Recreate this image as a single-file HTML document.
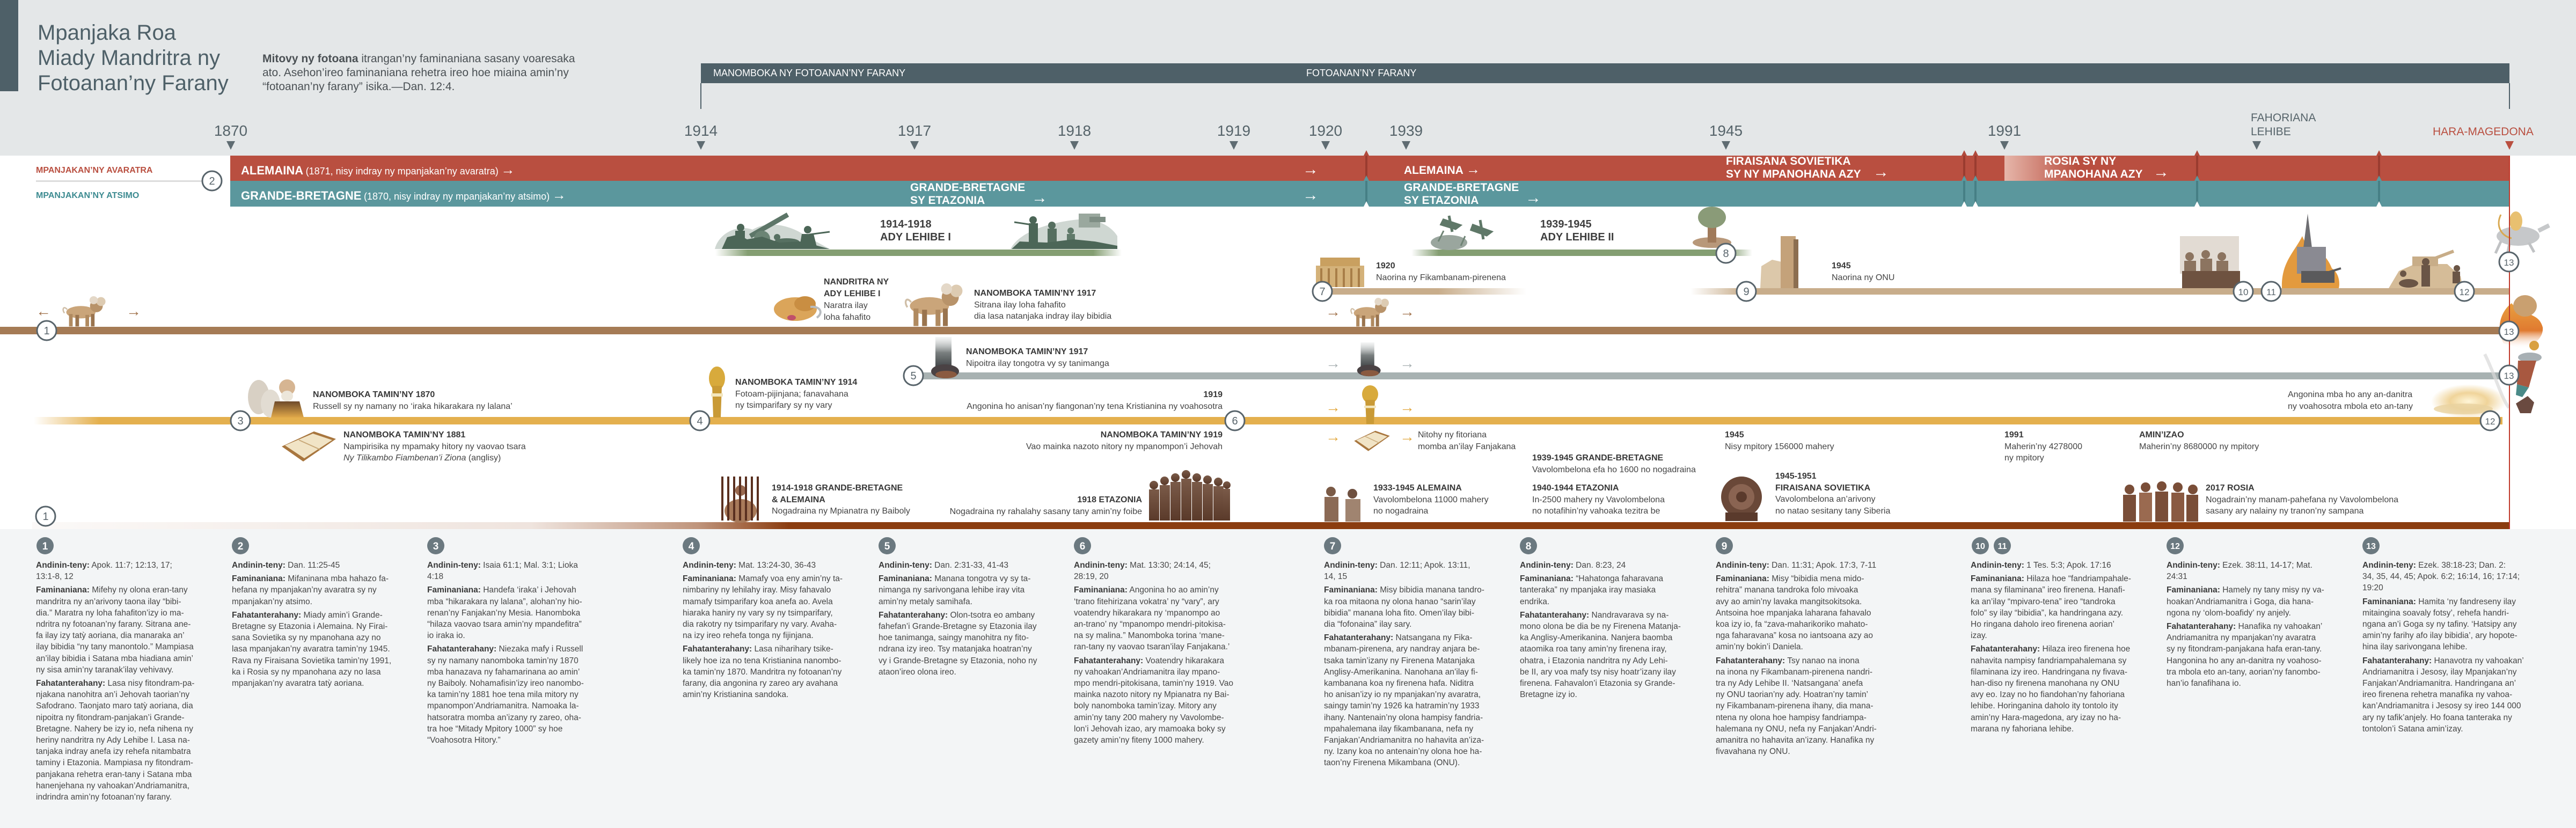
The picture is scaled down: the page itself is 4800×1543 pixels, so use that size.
<!DOCTYPE html>
<html><head><meta charset="utf-8">
<style>
body{margin:0;padding:0}
#c{position:relative;width:4800px;height:1543px;overflow:hidden;background:#fff;font-family:"Liberation Sans","DejaVu Sans",sans-serif}
.a{position:absolute;white-space:nowrap}
.m{font-size:16px;line-height:21.5px;color:#444}
.m b{color:#383838}
.r{text-align:right}
.y{position:absolute;top:230px;width:120px;margin-left:-60px;text-align:center;font-size:28px;line-height:28px;color:#56646a}
.bt{position:absolute;white-space:nowrap;color:#fff;font-weight:bold;font-size:21px;line-height:23.5px}
.col{position:absolute;top:1043px;font-size:15.5px;line-height:21.2px;color:#474747;white-space:nowrap}
.col p{margin:0 0 4px 0}
.col b{color:#3a3a3a}
</style></head><body>
<div id="c">
<svg width="4800" height="1543" viewBox="0 0 4800 1543" style="position:absolute;left:0;top:0">
<defs>
<linearGradient id="gy" gradientUnits="userSpaceOnUse" x1="63" y1="0" x2="185" y2="0"><stop offset="0" stop-color="#e4b04e" stop-opacity="0"/><stop offset="1" stop-color="#e4b04e"/></linearGradient>
<linearGradient id="gt1" gradientUnits="userSpaceOnUse" x1="2680" y1="0" x2="2844" y2="0"><stop offset="0" stop-color="#c8ad8b"/><stop offset="1" stop-color="#c8ad8b" stop-opacity="0"/></linearGradient>
<linearGradient id="gt2" gradientUnits="userSpaceOnUse" x1="3150" y1="0" x2="3250" y2="0"><stop offset="0" stop-color="#c8ad8b" stop-opacity="0"/><stop offset="1" stop-color="#c8ad8b"/></linearGradient>
<linearGradient id="gg"><stop offset="0" stop-color="#849e72" stop-opacity="0"/><stop offset=".08" stop-color="#849e72"/><stop offset=".93" stop-color="#849e72"/><stop offset="1" stop-color="#849e72" stop-opacity="0"/></linearGradient>
<linearGradient id="gb" gradientUnits="userSpaceOnUse" x1="60" y1="0" x2="1470" y2="0"><stop offset="0" stop-color="#8b3d10" stop-opacity=".03"/><stop offset=".66" stop-color="#8b3d10" stop-opacity=".14"/><stop offset=".88" stop-color="#8b3d10" stop-opacity=".55"/><stop offset="1" stop-color="#8b3d10"/></linearGradient>
<linearGradient id="gp" gradientUnits="userSpaceOnUse" x1="3735" y1="0" x2="3870" y2="0"><stop offset="0" stop-color="#e6b6aa"/><stop offset="1" stop-color="#b94f40"/></linearGradient>
<linearGradient id="gcoat" x1="0" y1="0" x2="0" y2="1"><stop offset="0" stop-color="#6e4a2a"/><stop offset="1" stop-color="#e0a848"/></linearGradient>
<linearGradient id="gfoot" x1="0" y1="0" x2="0" y2="1"><stop offset="0" stop-color="#d8dcdc" stop-opacity=".3"/><stop offset=".5" stop-color="#7a8080"/><stop offset="1" stop-color="#3e4244"/></linearGradient>
<linearGradient id="gmen" x1="0" y1="0" x2="0" y2="1"><stop offset="0" stop-color="#7a5a48"/><stop offset="1" stop-color="#5a3a2a"/></linearGradient>
<linearGradient id="gfire" x1="0" y1="0" x2="0" y2="1"><stop offset="0" stop-color="#e8a040"/><stop offset=".6" stop-color="#e07a30"/><stop offset="1" stop-color="#fff" stop-opacity="0"/></linearGradient>
<radialGradient id="gglow"><stop offset="0" stop-color="#fff6d8"/><stop offset=".5" stop-color="#f0d49a"/><stop offset="1" stop-color="#f0d49a" stop-opacity="0"/></radialGradient>
<symbol id="bst" viewBox="0 0 100 70" preserveAspectRatio="none">
<path d="M12,30 C4,20 0,30 6,38" stroke="#d0bfa8" stroke-width="3" fill="none"/>
<ellipse cx="42" cy="36" rx="32" ry="14" fill="#caa57a"/>
<rect x="16" y="40" width="8" height="28" fill="#b08a60"/>
<rect x="30" y="42" width="8" height="26" fill="#9a744e"/>
<rect x="52" y="42" width="8" height="26" fill="#b08a60"/>
<rect x="64" y="40" width="8" height="28" fill="#9a744e"/>
<circle cx="76" cy="22" r="14" fill="#b8936a"/>
<circle cx="86" cy="12" r="10" fill="#ddcbb2"/>
<circle cx="70" cy="9" r="9" fill="#e4d8c8"/>
</symbol>
<symbol id="wht" viewBox="0 0 46 95" preserveAspectRatio="none">
<ellipse cx="23" cy="22" rx="15" ry="22" fill="#d8aa3c"/>
<path d="M14,36 L32,36 L30,95 L16,95 Z" fill="#c99a36"/>
<rect x="12" y="50" width="22" height="6" fill="#f3e6bd"/>
</symbol>
<symbol id="bk" viewBox="0 0 105 62" preserveAspectRatio="none">
<path d="M2,32 L62,4 L103,18 L42,60 Z" fill="#a8763e"/>
<path d="M8,30 L60,8 L96,20 L44,54 Z" fill="#f1e4c6"/>
<path d="M34,20 L74,38" stroke="#c8a878" stroke-width="2"/>
</symbol>
<symbol id="ft" viewBox="0 0 64 78" preserveAspectRatio="none">
<rect x="16" y="0" width="30" height="58" fill="url(#gfoot)"/>
<ellipse cx="34" cy="64" rx="26" ry="13" fill="#4a4244"/>
<ellipse cx="36" cy="70" rx="20" ry="7" fill="#8a5a40"/>
</symbol>
</defs>

<!-- backgrounds -->
<rect x="0" y="0" width="4800" height="290" fill="#e4e7e8"/>
<rect x="0" y="986" width="4800" height="557" fill="#f3f5f6"/>
<rect x="0" y="0" width="34" height="170" fill="#4e6068"/>
<rect x="1306" y="118" width="3370" height="37" fill="#4e6068"/>
<rect x="1305" y="155" width="2" height="48" fill="#4e6068"/>
<rect x="4675" y="155" width="2" height="48" fill="#4e6068"/>

<!-- year triangles -->
<g fill="#5f6c72">
<polygon points="422,263 438,263 430,279"/>
<polygon points="1298,263 1314,263 1306,279"/>
<polygon points="1696,263 1712,263 1704,279"/>
<polygon points="1994,263 2010,263 2002,279"/>
<polygon points="2291,263 2307,263 2299,279"/>
<polygon points="2462,263 2478,263 2470,279"/>
<polygon points="2612,263 2628,263 2620,279"/>
<polygon points="3208,263 3224,263 3216,279"/>
<polygon points="3727,263 3743,263 3735,279"/>
<polygon points="4197,263 4213,263 4205,279"/>
</g>
<polygon points="4668,263 4684,263 4676,279" fill="#b94f40"/>

<!-- bands -->
<rect x="429" y="290" width="4247" height="47" fill="#b94f40"/>
<rect x="429" y="337" width="4247" height="48" fill="#5b979d"/>
<rect x="3735" y="290" width="135" height="47" fill="url(#gp)"/>
<rect x="67" y="336" width="310" height="3" fill="#dcdcdc"/>
<g>
<g id="n1">
<polygon points="2541,290 2546,280 2551,290" fill="#b04a3c"/>
<rect x="2544" y="290" width="4" height="47" fill="#9a3c30"/>
<rect x="2544" y="337" width="4" height="48" fill="#467f85"/>
<polygon points="2541,337 2546,327 2551,337" fill="#5b979d"/>
<polygon points="2541,385 2546,375 2551,385" fill="#fff"/>
</g>
<use href="#n1" x="1114"/>
<use href="#n1" x="1135"/>
<use href="#n1" x="1548"/>
<use href="#n1" x="1887"/>
</g>

<!-- middle lines -->
<rect x="1333" y="465" width="757" height="12" fill="url(#gg)"/>
<rect x="2630" y="465" width="635" height="12" fill="url(#gg)"/>
<rect x="2446" y="537" width="398" height="12" fill="url(#gt1)"/>
<rect x="3150" y="537" width="1526" height="12" fill="url(#gt2)"/>
<rect x="0" y="609" width="4662" height="14" fill="#a57b55"/>
<rect x="1702" y="694" width="2958" height="13" fill="#a8b2b2"/>
<rect x="63" y="777" width="4600" height="14" fill="url(#gy)"/>
<rect x="60" y="973" width="4616" height="13" fill="url(#gb)"/>

<!-- images -->
<path d="M1332,464 C1340,432 1378,418 1402,428 C1432,410 1474,420 1502,440 L1546,464 Z" fill="#c7d0ca" opacity=".85"/>
<line x1="1398" y1="440" x2="1468" y2="400" stroke="#5d7668" stroke-width="9"/>
<circle cx="1420" cy="445" r="15" fill="#6b8474"/>
<circle cx="1380" cy="424" r="7" fill="#4c6657"/>
<rect x="1370" y="430" width="18" height="24" fill="#4c6657"/>
<ellipse cx="1466" cy="451" rx="24" ry="7" fill="#567061"/>
<circle cx="1448" cy="442" r="6" fill="#567061"/>
<circle cx="1505" cy="428" r="7" fill="#4c6657"/>
<path d="M1494,436 L1516,436 L1522,460 L1490,460 Z" fill="#4c6657"/>
<line x1="1508" y1="437" x2="1546" y2="432" stroke="#4c6657" stroke-width="3"/>
<path d="M1345,464 L1355,442 L1376,437 L1392,446 L1420,441 L1452,452 L1490,450 L1520,457 L1546,464 Z" fill="#4c6657"/>
<path d="M1883,464 C1900,430 1960,415 2000,410 C2040,404 2070,420 2082,440 L2082,464 Z" fill="#c7d0ca" opacity=".85"/>
<rect x="2010" y="398" width="40" height="26" fill="#9aa89e"/>
<rect x="2030" y="404" width="30" height="10" fill="#7e8e84"/>
<circle cx="1925" cy="410" r="7" fill="#4c6657"/>
<rect x="1917" y="416" width="17" height="40" fill="#4c6657"/>
<line x1="1890" y1="414" x2="1930" y2="420" stroke="#4c6657" stroke-width="3"/>
<circle cx="1960" cy="420" r="7" fill="#566f60"/>
<rect x="1952" y="426" width="17" height="32" fill="#566f60"/>
<circle cx="1995" cy="430" r="6" fill="#607a6a"/>
<rect x="1988" y="436" width="15" height="24" fill="#607a6a"/>
<path d="M1885,464 L1900,450 L1950,452 L2000,446 L2040,450 L2082,458 L2082,464 Z" fill="#4c6657"/>
<ellipse cx="2700" cy="452" rx="34" ry="14" fill="#9aa69e"/>
<path d="M2690,410 L2720,420 L2712,426 L2686,418 Z M2700,402 L2706,432" stroke="#5f7868" stroke-width="5" fill="#5f7868"/>
<path d="M2745,420 L2778,432 L2770,438 L2742,428 Z M2758,410 L2764,446" stroke="#5f7868" stroke-width="5" fill="#5f7868"/>
<line x1="2690" y1="430" x2="2680" y2="450" stroke="#6f8475" stroke-width="3"/>
<line x1="2730" y1="440" x2="2722" y2="458" stroke="#6f8475" stroke-width="3"/>
<ellipse cx="3190" cy="452" rx="36" ry="10" fill="#b8987a"/>
<rect x="3182" y="402" width="16" height="50" fill="#a07a5a"/>
<ellipse cx="3190" cy="405" rx="26" ry="20" fill="#8a9b78"/>
<rect x="2452" y="495" width="90" height="40" fill="#d4b27a"/>
<rect x="2460" y="480" width="74" height="16" fill="#c9a060"/>
<g fill="#a87e48"><rect x="2460" y="500" width="4" height="35"/><rect x="2474" y="500" width="4" height="35"/><rect x="2488" y="500" width="4" height="35"/><rect x="2502" y="500" width="4" height="35"/><rect x="2516" y="500" width="4" height="35"/><rect x="2530" y="500" width="4" height="35"/></g>
<path d="M3280,537 L3282,496 L3302,484 L3320,488 L3320,537 Z" fill="#dcc8aa"/>
<rect x="3318" y="440" width="28" height="97" fill="#c4a27a"/>
<rect x="3342" y="446" width="9" height="91" fill="#8c6e50"/>
<use href="#bst" x="115" y="552" width="85" height="58"/>
<use href="#bst" x="1684" y="528" width="114" height="82"/>
<use href="#bst" x="2515" y="555" width="76" height="55"/>
<ellipse cx="1482" cy="576" rx="40" ry="22" fill="#dba55a"/>
<ellipse cx="1500" cy="566" rx="20" ry="14" fill="#c98e42"/>
<path d="M1510,572 C1530,570 1534,584 1522,592" stroke="#b8bcc0" stroke-width="4" fill="none"/>
<ellipse cx="1475" cy="592" rx="8" ry="5" fill="#c0506a"/>
<use href="#ft" x="1727" y="628" width="64" height="78"/>
<use href="#ft" x="2522" y="638" width="54" height="64"/>
<use href="#wht" x="1313" y="683" width="46" height="95"/>
<use href="#wht" x="2530" y="718" width="46" height="72"/>
<ellipse cx="482" cy="740" rx="20" ry="32" fill="#d8d0c4"/>
<ellipse cx="504" cy="752" rx="18" ry="26" fill="#e2dcd2"/>
<path d="M505,778 L512,748 L558,748 L566,778 Z" fill="url(#gcoat)"/>
<circle cx="535" cy="722" r="15" fill="#d6b592"/>
<ellipse cx="535" cy="738" rx="11" ry="10" fill="#ece6da"/>
<use href="#bk" x="523" y="800" width="105" height="62"/>
<use href="#bk" x="2522" y="800" width="69" height="42"/>
<circle cx="1380" cy="914" r="10" fill="#9a6a50"/>
<ellipse cx="1380" cy="952" rx="30" ry="22" fill="#a87a5a"/>
<g fill="#5a3020"><rect x="1344" y="888" width="4" height="82"/><rect x="1355" y="888" width="4" height="82"/><rect x="1366" y="888" width="4" height="82"/><rect x="1377" y="888" width="4" height="82"/><rect x="1388" y="888" width="4" height="82"/><rect x="1399" y="888" width="4" height="82"/><rect x="1410" y="888" width="4" height="82"/></g>
<g fill="url(#gmen)">
<circle cx="2150" cy="904" r="8"/><rect x="2141" y="912" width="19" height="58"/>
<circle cx="2170" cy="896" r="8"/><rect x="2161" y="904" width="19" height="66"/>
<circle cx="2190" cy="890" r="8"/><rect x="2181" y="898" width="19" height="72"/>
<circle cx="2210" cy="884" r="8"/><rect x="2201" y="892" width="19" height="78"/>
<circle cx="2230" cy="890" r="8"/><rect x="2221" y="898" width="19" height="72"/>
<circle cx="2250" cy="894" r="8"/><rect x="2241" y="902" width="19" height="68"/>
<circle cx="2270" cy="898" r="8"/><rect x="2261" y="906" width="19" height="64"/>
<circle cx="2286" cy="904" r="7"/><rect x="2279" y="911" width="13" height="59"/>
</g>
<circle cx="2480" cy="916" r="9" fill="#7a5a46"/><rect x="2468" y="926" width="26" height="46" fill="#8b6a55"/>
<circle cx="2520" cy="920" r="9" fill="#6e5040"/><rect x="2507" y="930" width="28" height="42" fill="#a08470"/>
<circle cx="3245" cy="926" r="38" fill="#6a4838"/>
<circle cx="3245" cy="926" r="24" fill="#8a6452"/>
<circle cx="3245" cy="926" r="10" fill="#5a3a2c"/>
<rect x="3215" y="955" width="60" height="16" fill="#5a3a2c"/>
<g fill="#7a4e38">
<circle cx="3968" cy="912" r="9"/><rect x="3956" y="922" width="24" height="50"/>
<circle cx="3998" cy="908" r="9"/><rect x="3986" y="918" width="24" height="54" fill="#9a6a50"/>
<circle cx="4028" cy="906" r="9"/><rect x="4016" y="916" width="24" height="56"/>
<circle cx="4058" cy="908" r="9"/><rect x="4046" y="918" width="24" height="54" fill="#8a5a42"/>
<circle cx="4086" cy="912" r="9"/><rect x="4074" y="922" width="22" height="50"/>
</g>
<rect x="4062" y="440" width="110" height="70" fill="#d6ccc0" opacity=".7"/>
<g fill="#8c7460"><circle cx="4080" cy="478" r="8"/><circle cx="4110" cy="474" r="8"/><circle cx="4140" cy="478" r="8"/><rect x="4070" y="486" width="22" height="24"/><rect x="4100" y="482" width="22" height="28"/><rect x="4130" y="486" width="22" height="24"/></g>
<rect x="4066" y="505" width="108" height="32" fill="#6e5240"/>
<path d="M4252,537 C4250,490 4275,470 4290,440 C4300,470 4330,460 4345,500 C4360,510 4360,530 4358,537 Z" fill="#e39a3e"/>
<polygon points="4300,398 4292,462 4308,462" fill="#6e6e72"/>
<rect x="4280" y="460" width="54" height="50" fill="#8a8a92"/>
<rect x="4288" y="505" width="62" height="22" fill="#5a5a5c"/>
<line x1="4330" y1="510" x2="4362" y2="500" stroke="#5a5a5c" stroke-width="4"/>
<path d="M4451,537 L4470,505 L4500,492 L4560,492 L4585,515 L4589,537 Z" fill="#d5bc98"/>
<rect x="4495" y="478" width="48" height="18" fill="#c8ad88"/>
<line x1="4530" y1="484" x2="4572" y2="468" stroke="#c8ad88" stroke-width="6"/>
<circle cx="4520" cy="488" r="7" fill="#6a5546"/><rect x="4512" y="494" width="16" height="40" fill="#6a5546"/>
<circle cx="4478" cy="510" r="6" fill="#6a5546"/><ellipse cx="4488" cy="528" rx="18" ry="8" fill="#6a5546"/>
<circle cx="4578" cy="500" r="6" fill="#6a5546"/><rect x="4570" y="506" width="14" height="22" fill="#6a5546"/>
<ellipse cx="4692" cy="440" rx="40" ry="18" fill="#c6c8ca"/>
<path d="M4660,450 L4650,472 M4676,454 L4672,474 M4712,452 L4722,470" stroke="#c0c2c4" stroke-width="5"/>
<path d="M4730,430 L4750,420" stroke="#c6c8ca" stroke-width="8"/>
<ellipse cx="4688" cy="412" rx="12" ry="18" fill="#e8c070"/>
<path d="M4660,400 C4650,420 4660,440 4680,444" stroke="#d8a850" stroke-width="3" fill="none"/>
<path d="M4665,640 C4650,610 4660,580 4680,565 C4700,590 4730,580 4738,610 C4740,630 4720,645 4700,650 Z" fill="url(#gfire)"/>
<ellipse cx="4705" cy="570" rx="22" ry="20" fill="#c9a070"/>
<path d="M4630,660 C4650,700 4660,740 4675,760" stroke="#d8d8d8" stroke-width="6" fill="none" opacity=".7"/>
<ellipse cx="4714" cy="666" rx="22" ry="9" fill="#a8b0b4"/>
<circle cx="4722" cy="644" r="9" fill="#d9a040"/>
<path d="M4692,672 L4726,672 L4712,722 L4690,716 Z" fill="#a85840"/>
<path d="M4690,716 L4712,722 L4700,740 L4688,736 Z" fill="#4a8a88"/>
<polygon points="4688,752 4710,738 4722,750 4716,770 4696,770" fill="#6a4a40"/>
<ellipse cx="4600" cy="748" rx="70" ry="32" fill="url(#gglow)"/>
<ellipse cx="4590" cy="762" rx="55" ry="10" fill="#e8d2a0" opacity=".8"/>

<rect x="4675" y="290" width="2" height="696" fill="#c0392b"/>

<!-- arrows -->
<g font-family="Liberation Sans, DejaVu Sans, sans-serif" font-size="28" text-anchor="middle">
<text x="81" y="589" fill="#a0714a">←</text><text x="249" y="589" fill="#a0714a">→</text>
<text x="2484" y="590" fill="#a0714a">→</text><text x="2622" y="590" fill="#a0714a">→</text>
<text x="2484" y="686" fill="#a8b0b2">→</text><text x="2622" y="686" fill="#a8b0b2">→</text>
<text x="2484" y="768" fill="#e2a940">→</text><text x="2622" y="768" fill="#e2a940">→</text>
<text x="2484" y="823" fill="#e2a940">→</text><text x="2622" y="823" fill="#e2a940">→</text>
</g>
<g font-family="Liberation Sans, DejaVu Sans, sans-serif" font-size="30" font-weight="bold" text-anchor="middle" fill="#fff">
<text x="1937" y="378">→</text>
<text x="2442" y="325">→</text><text x="2442" y="373">→</text>
<text x="2857" y="378">→</text>
<text x="3505" y="330">→</text>
<text x="4027" y="330">→</text>
</g>

<!-- timeline circles -->
<g fill="#fff" stroke="#58646b" stroke-width="3">
<circle cx="87" cy="616" r="18"/><circle cx="85" cy="962" r="18"/><circle cx="395" cy="337" r="18"/>
<circle cx="448" cy="784" r="18"/><circle cx="1304" cy="784" r="18"/><circle cx="1702" cy="700" r="18"/>
<circle cx="2301" cy="784" r="18"/><circle cx="2464" cy="543" r="18"/><circle cx="3216" cy="472" r="18"/>
<circle cx="3254" cy="543" r="18"/><circle cx="4180" cy="543" r="18"/><circle cx="4232" cy="543" r="18"/>
<circle cx="4592" cy="543" r="18"/><circle cx="4640" cy="784" r="18"/><circle cx="4675" cy="488" r="18"/>
<circle cx="4675" cy="617" r="18"/><circle cx="4675" cy="699" r="18"/>
</g>
<g font-family="Liberation Sans, DejaVu Sans, sans-serif" font-size="20" text-anchor="middle" fill="#58646b">
<text x="87" y="623">1</text><text x="85" y="969">1</text><text x="395" y="344">2</text>
<text x="448" y="791">3</text><text x="1304" y="791">4</text><text x="1702" y="707">5</text>
<text x="2301" y="791">6</text><text x="2464" y="550">7</text><text x="3216" y="479">8</text>
<text x="3254" y="550">9</text><text x="4180" y="550" font-size="17">10</text><text x="4232" y="550" font-size="17">11</text>
<text x="4592" y="550" font-size="17">12</text><text x="4640" y="791" font-size="17">12</text><text x="4675" y="495" font-size="17">13</text>
<text x="4675" y="624" font-size="17">13</text><text x="4675" y="706" font-size="17">13</text>
</g>

<!-- bottom badges -->
<g fill="#6b7980">
<circle cx="84" cy="1017" r="16"/><circle cx="448" cy="1017" r="16"/><circle cx="812" cy="1017" r="16"/>
<circle cx="1288" cy="1017" r="16"/><circle cx="1653" cy="1017" r="16"/><circle cx="2017" cy="1017" r="16"/>
<circle cx="2483" cy="1017" r="16"/><circle cx="2848" cy="1017" r="16"/><circle cx="3213" cy="1017" r="16"/>
<circle cx="3690" cy="1017" r="16"/><circle cx="3731" cy="1017" r="16"/><circle cx="4053" cy="1017" r="16"/>
<circle cx="4418" cy="1017" r="16"/>
</g>
<g font-family="Liberation Sans, DejaVu Sans, sans-serif" font-size="19" font-weight="bold" text-anchor="middle" fill="#fff">
<text x="84" y="1024">1</text><text x="448" y="1024">2</text><text x="812" y="1024">3</text>
<text x="1288" y="1024">4</text><text x="1653" y="1024">5</text><text x="2017" y="1024">6</text>
<text x="2483" y="1024">7</text><text x="2848" y="1024">8</text><text x="3213" y="1024">9</text>
<text x="3690" y="1023" font-size="16">10</text><text x="3731" y="1023" font-size="16">11</text><text x="4053" y="1023" font-size="16">12</text>
<text x="4418" y="1023" font-size="16">13</text>
</g>
</svg>

<!-- Header -->
<div class="a" style="left:70px;top:38px;font-size:40px;line-height:47px;color:#4e6068">Mpanjaka Roa<br>Miady Mandritra ny<br>Fotoanan’ny Farany</div>
<div class="a" style="left:489px;top:97px;font-size:21px;line-height:26px;color:#4a5054"><b>Mitovy ny fotoana</b> itrangan’ny faminaniana sasany voaresaka<br>ato. Asehon’ireo faminaniana rehetra ireo hoe miaina amin’ny<br>“fotoanan’ny farany” isika.—Dan. 12:4.</div>
<div class="a" style="left:1329px;top:118px;font-size:18px;line-height:37px;color:#fff">MANOMBOKA NY FOTOANAN’NY FARANY</div>
<div class="a" style="left:2434px;top:118px;font-size:18px;line-height:37px;color:#fff">FOTOANAN’NY FARANY</div>

<div class="y" style="left:430px">1870</div>
<div class="y" style="left:1306px">1914</div>
<div class="y" style="left:1704px">1917</div>
<div class="y" style="left:2002px">1918</div>
<div class="y" style="left:2299px">1919</div>
<div class="y" style="left:2470px">1920</div>
<div class="y" style="left:2620px">1939</div>
<div class="y" style="left:3216px">1945</div>
<div class="y" style="left:3735px">1991</div>
<div class="a" style="left:4194px;top:207px;font-size:21px;line-height:26px;color:#56646a">FAHORIANA<br>LEHIBE</div>
<div class="a" style="left:4533px;top:233px;font-size:21px;line-height:26px;color:#b94f40">HARA-MAGEDONA</div>

<!-- Band labels -->
<div class="a" style="left:67px;top:308px;font-size:16px;line-height:20px;font-weight:bold;color:#b94f40">MPANJAKAN’NY AVARATRA</div>
<div class="a" style="left:67px;top:355px;font-size:16px;line-height:20px;font-weight:bold;color:#3d8b91">MPANJAKAN’NY ATSIMO</div>
<div class="a" style="left:449px;top:303px;line-height:26px;color:#fff"><b style="font-size:22px">ALEMAINA</b> <span style="font-size:18px">(1871, nisy indray ny mpanjakan’ny avaratra)</span> <b style="font-size:26px">→</b></div>
<div class="a" style="left:449px;top:350px;line-height:26px;color:#fff"><b style="font-size:22px">GRANDE-BRETAGNE</b> <span style="font-size:18px">(1870, nisy indray ny mpanjakan’ny atsimo)</span> <b style="font-size:26px">→</b></div>
<div class="bt" style="left:1696px;top:338px">GRANDE-BRETAGNE<br>SY ETAZONIA</div>
<div class="bt" style="left:2616px;top:304px">ALEMAINA <span style="font-size:26px">→</span></div>
<div class="bt" style="left:2616px;top:338px">GRANDE-BRETAGNE<br>SY ETAZONIA</div>
<div class="bt" style="left:3216px;top:289px">FIRAISANA SOVIETIKA<br>SY NY MPANOHANA AZY</div>
<div class="bt" style="left:3809px;top:289px">ROSIA SY NY<br>MPANOHANA AZY</div>

<!-- Middle text -->
<div class="a" style="left:1640px;top:406px;font-size:20px;line-height:24px;font-weight:bold;color:#3e3e3e">1914-1918<br>ADY LEHIBE I</div>
<div class="a" style="left:2870px;top:406px;font-size:20px;line-height:24px;font-weight:bold;color:#3e3e3e">1939-1945<br>ADY LEHIBE II</div>

<div class="a m" style="left:1535px;top:515px;line-height:22px"><b>NANDRITRA NY<br>ADY LEHIBE I</b><br>Naratra ilay<br>loha fahafito</div>
<div class="a m" style="left:1815px;top:536px"><b>NANOMBOKA TAMIN’NY 1917</b><br>Sitrana ilay loha fahafito<br>dia lasa natanjaka indray ilay bibidia</div>
<div class="a m" style="left:1800px;top:645px"><b>NANOMBOKA TAMIN’NY 1917</b><br>Nipoitra ilay tongotra vy sy tanimanga</div>
<div class="a m" style="left:583px;top:725px"><b>NANOMBOKA TAMIN’NY 1870</b><br>Russell sy ny namany no ‘iraka hikarakara ny lalana’</div>
<div class="a m" style="left:640px;top:800px"><b>NANOMBOKA TAMIN’NY 1881</b><br>Nampirisika ny mpamaky hitory ny vaovao tsara<br><i>Ny Tilikambo Fiambenan’i Ziona</i> (anglisy)</div>
<div class="a m" style="left:1370px;top:702px"><b>NANOMBOKA TAMIN’NY 1914</b><br>Fotoam-pijinjana; fanavahana<br>ny tsimparifary sy ny vary</div>
<div class="a m r" style="right:2522px;top:725px"><b>1919</b><br>Angonina ho anisan’ny fiangonan’ny tena Kristianina ny voahosotra</div>
<div class="a m r" style="right:2522px;top:800px"><b>NANOMBOKA TAMIN’NY 1919</b><br>Vao mainka nazoto nitory ny mpanompon’i Jehovah</div>
<div class="a m" style="left:1438px;top:899px"><b>1914-1918 GRANDE-BRETAGNE<br>&amp; ALEMAINA</b><br>Nogadraina ny Mpianatra ny Baiboly</div>
<div class="a m r" style="right:2672px;top:921px"><b>1918 ETAZONIA</b><br>Nogadraina ny rahalahy sasany tany amin’ny foibe</div>

<div class="a m" style="left:2564px;top:485px"><b>1920</b><br>Naorina ny Fikambanam-pirenena</div>
<div class="a m" style="left:3413px;top:485px"><b>1945</b><br>Naorina ny ONU</div>
<div class="a m" style="left:2642px;top:800px">Nitohy ny fitoriana<br>momba an’ilay Fanjakana</div>
<div class="a m" style="left:2855px;top:843px"><b>1939-1945 GRANDE-BRETAGNE</b><br>Vavolombelona efa ho 1600 no nogadraina</div>
<div class="a m" style="left:3214px;top:800px"><b>1945</b><br>Nisy mpitory 156000 mahery</div>
<div class="a m" style="left:3735px;top:800px"><b>1991</b><br>Maherin’ny 4278000<br>ny mpitory</div>
<div class="a m" style="left:3986px;top:800px"><b>AMIN’IZAO</b><br>Maherin’ny 8680000 ny mpitory</div>
<div class="a m" style="left:4263px;top:725px">Angonina mba ho any an-danitra<br>ny voahosotra mbola eto an-tany</div>
<div class="a m" style="left:2559px;top:899px"><b>1933-1945 ALEMAINA</b><br>Vavolombelona 11000 mahery<br>no nogadraina</div>
<div class="a m" style="left:2855px;top:899px"><b>1940-1944 ETAZONIA</b><br>In-2500 mahery ny Vavolombelona<br>no notafihin’ny vahoaka tezitra be</div>
<div class="a m" style="left:3308px;top:877px"><b>1945-1951<br>FIRAISANA SOVIETIKA</b><br>Vavolombelona an’arivony<br>no natao sesitany tany Siberia</div>
<div class="a m" style="left:4110px;top:899px"><b>2017 ROSIA</b><br>Nogadrain’ny manam-pahefana ny Vavolombelona<br>sasany ary nalainy ny tranon’ny sampana</div>

<!-- Bottom columns -->
<div class="col" style="left:67px">
<p><b>Andinin-teny:</b> Apok. 11:7; 12:13, 17;<br>13:1-8, 12</p>
<p><b>Faminaniana:</b> Mifehy ny olona eran-tany<br>mandritra ny an’arivony taona ilay “bibi-<br>dia.” Maratra ny loha fahafiton’izy io ma-<br>ndritra ny fotoanan’ny farany. Sitrana ane-<br>fa ilay izy tatỳ aoriana, dia manaraka an’<br>ilay bibidia “ny tany manontolo.” Mampiasa<br>an’ilay bibidia i Satana mba hiadiana amin’<br>ny sisa amin’ny taranak’ilay vehivavy.</p>
<p><b>Fahatanterahany:</b> Lasa nisy fitondram-pa-<br>njakana nanohitra an’i Jehovah taorian’ny<br>Safodrano. Taonjato maro tatỳ aoriana, dia<br>nipoitra ny fitondram-panjakan’i Grande-<br>Bretagne. Nahery be izy io, nefa nihena ny<br>heriny nandritra ny Ady Lehibe I. Lasa na-<br>tanjaka indray anefa izy rehefa nitambatra<br>taminy i Etazonia. Mampiasa ny fitondram-<br>panjakana rehetra eran-tany i Satana mba<br>hanenjehana ny vahoakan’Andriamanitra,<br>indrindra amin’ny fotoanan’ny farany.</p>
</div>
<div class="col" style="left:432px">
<p><b>Andinin-teny:</b> Dan. 11:25-45</p>
<p><b>Faminaniana:</b> Mifaninana mba hahazo fa-<br>hefana ny mpanjakan’ny avaratra sy ny<br>mpanjakan’ny atsimo.</p>
<p><b>Fahatanterahany:</b> Miady amin’i Grande-<br>Bretagne sy Etazonia i Alemaina. Ny Firai-<br>sana Sovietika sy ny mpanohana azy no<br>lasa mpanjakan’ny avaratra tamin’ny 1945.<br>Rava ny Firaisana Sovietika tamin’ny 1991,<br>ka i Rosia sy ny mpanohana azy no lasa<br>mpanjakan’ny avaratra tatỳ aoriana.</p>
</div>
<div class="col" style="left:796px">
<p><b>Andinin-teny:</b> Isaia 61:1; Mal. 3:1; Lioka<br>4:18</p>
<p><b>Faminaniana:</b> Handefa ‘iraka’ i Jehovah<br>mba “hikarakara ny lalana”, alohan’ny hio-<br>renan’ny Fanjakan’ny Mesia. Hanomboka<br>“hilaza vaovao tsara amin’ny mpandefitra”<br>io iraka io.</p>
<p><b>Fahatanterahany:</b> Niezaka mafy i Russell<br>sy ny namany nanomboka tamin’ny 1870<br>mba hanazava ny fahamarinana ao amin’<br>ny Baiboly. Nohamafisin’izy ireo nanombo-<br>ka tamin’ny 1881 hoe tena mila mitory ny<br>mpanompon’Andriamanitra. Namoaka la-<br>hatsoratra momba an’izany ry zareo, oha-<br>tra hoe “Mitady Mpitory 1000” sy hoe<br>“Voahosotra Hitory.”</p>
</div>
<div class="col" style="left:1272px">
<p><b>Andinin-teny:</b> Mat. 13:24-30, 36-43</p>
<p><b>Faminaniana:</b> Mamafy voa eny amin’ny ta-<br>nimbariny ny lehilahy iray. Misy fahavalo<br>mamafy tsimparifary koa anefa ao. Avela<br>hiaraka haniry ny vary sy ny tsimparifary,<br>dia rakotry ny tsimparifary ny vary. Avaha-<br>na izy ireo rehefa tonga ny fijinjana.</p>
<p><b>Fahatanterahany:</b> Lasa niharihary tsike-<br>likely hoe iza no tena Kristianina nanombo-<br>ka tamin’ny 1870. Mandritra ny fotoanan’ny<br>farany, dia angonina ry zareo ary avahana<br>amin’ny Kristianina sandoka.</p>
</div>
<div class="col" style="left:1637px">
<p><b>Andinin-teny:</b> Dan. 2:31-33, 41-43</p>
<p><b>Faminaniana:</b> Manana tongotra vy sy ta-<br>nimanga ny sarivongana lehibe iray vita<br>amin’ny metaly samihafa.</p>
<p><b>Fahatanterahany:</b> Olon-tsotra eo ambany<br>fahefan’i Grande-Bretagne sy Etazonia ilay<br>hoe tanimanga, saingy manohitra ny fito-<br>ndrana izy ireo. Tsy matanjaka hoatran’ny<br>vy i Grande-Bretagne sy Etazonia, noho ny<br>ataon’ireo olona ireo.</p>
</div>
<div class="col" style="left:2001px">
<p><b>Andinin-teny:</b> Mat. 13:30; 24:14, 45;<br>28:19, 20</p>
<p><b>Faminaniana:</b> Angonina ho ao amin’ny<br>‘trano fitehirizana vokatra’ ny “vary”, ary<br>voatendry hikarakara ny ‘mpanompo ao<br>an-trano’ ny “mpanompo mendri-pitokisa-<br>na sy malina.” Manomboka torina ‘mane-<br>ran-tany ny vaovao tsaran’ilay Fanjakana.’</p>
<p><b>Fahatanterahany:</b> Voatendry hikarakara<br>ny vahoakan’Andriamanitra ilay mpano-<br>mpo mendri-pitokisana, tamin’ny 1919. Vao<br>mainka nazoto nitory ny Mpianatra ny Bai-<br>boly nanomboka tamin’izay. Mitory any<br>amin’ny tany 200 mahery ny Vavolombe-<br>lon’i Jehovah izao, ary mamoaka boky sy<br>gazety amin’ny fiteny 1000 mahery.</p>
</div>
<div class="col" style="left:2467px">
<p><b>Andinin-teny:</b> Dan. 12:11; Apok. 13:11,<br>14, 15</p>
<p><b>Faminaniana:</b> Misy bibidia manana tandro-<br>ka roa mitaona ny olona hanao “sarin’ilay<br>bibidia” manana loha fito. Omen’ilay bibi-<br>dia “fofonaina” ilay sary.</p>
<p><b>Fahatanterahany:</b> Natsangana ny Fika-<br>mbanam-pirenena, ary nandray anjara be-<br>tsaka tamin’izany ny Firenena Matanjaka<br>Anglisy-Amerikanina. Nanohana an’ilay fi-<br>kambanana koa ny firenena hafa. Niditra<br>ho anisan’izy io ny mpanjakan’ny avaratra,<br>saingy tamin’ny 1926 ka hatramin’ny 1933<br>ihany. Nantenain’ny olona hampisy fandria-<br>mpahalemana ilay fikambanana, nefa ny<br>Fanjakan’Andriamanitra no hahavita an’iza-<br>ny. Izany koa no antenain’ny olona hoe ha-<br>taon’ny Firenena Mikambana (ONU).</p>
</div>
<div class="col" style="left:2832px">
<p><b>Andinin-teny:</b> Dan. 8:23, 24</p>
<p><b>Faminaniana:</b> “Hahatonga faharavana<br>tanteraka” ny mpanjaka iray masiaka<br>endrika.</p>
<p><b>Fahatanterahany:</b> Nandravarava sy na-<br>mono olona be dia be ny Firenena Matanja-<br>ka Anglisy-Amerikanina. Nanjera baomba<br>ataomika roa tany amin’ny firenena iray,<br>ohatra, i Etazonia nandritra ny Ady Lehi-<br>be II, ary voa mafy tsy nisy hoatr’izany ilay<br>firenena. Fahavalon’i Etazonia sy Grande-<br>Bretagne izy io.</p>
</div>
<div class="col" style="left:3197px">
<p><b>Andinin-teny:</b> Dan. 11:31; Apok. 17:3, 7-11</p>
<p><b>Faminaniana:</b> Misy “bibidia mena mido-<br>rehitra” manana tandroka folo mivoaka<br>avy ao amin’ny lavaka mangitsokitsoka.<br>Antsoina hoe mpanjaka laharana fahavalo<br>koa izy io, fa “zava-maharikoriko mahato-<br>nga faharavana” kosa no iantsoana azy ao<br>amin’ny bokin’i Daniela.</p>
<p><b>Fahatanterahany:</b> Tsy nanao na inona<br>na inona ny Fikambanam-pirenena nandri-<br>tra ny Ady Lehibe II. ‘Natsangana’ anefa<br>ny ONU taorian’ny ady. Hoatran’ny tamin’<br>ny Fikambanam-pirenena ihany, dia mana-<br>ntena ny olona hoe hampisy fandriampa-<br>halemana ny ONU, nefa ny Fanjakan’Andri-<br>amanitra no hahavita an’izany. Hanafika ny<br>fivavahana ny ONU.</p>
</div>
<div class="col" style="left:3672px">
<p><b>Andinin-teny:</b> 1 Tes. 5:3; Apok. 17:16</p>
<p><b>Faminaniana:</b> Hilaza hoe “fandriampahale-<br>mana sy filaminana” ireo firenena. Hanafi-<br>ka an’ilay “mpivaro-tena” ireo “tandroka<br>folo” sy ilay “bibidia”, ka handringana azy.<br>Ho ringana daholo ireo firenena aorian’<br>izay.</p>
<p><b>Fahatanterahany:</b> Hilaza ireo firenena hoe<br>nahavita nampisy fandriampahalemana sy<br>filaminana izy ireo. Handringana ny fivava-<br>han-diso ny firenena manohana ny ONU<br>avy eo. Izay no ho fiandohan’ny fahoriana<br>lehibe. Horinganina daholo ity tontolo ity<br>amin’ny Hara-magedona, ary izay no ha-<br>marana ny fahoriana lehibe.</p>
</div>
<div class="col" style="left:4037px">
<p><b>Andinin-teny:</b> Ezek. 38:11, 14-17; Mat.<br>24:31</p>
<p><b>Faminaniana:</b> Hamely ny tany misy ny va-<br>hoakan’Andriamanitra i Goga, dia hana-<br>ngona ny ‘olom-boafidy’ ny anjely.</p>
<p><b>Fahatanterahany:</b> Hanafika ny vahoakan’<br>Andriamanitra ny mpanjakan’ny avaratra<br>sy ny fitondram-panjakana hafa eran-tany.<br>Hangonina ho any an-danitra ny voahoso-<br>tra mbola eto an-tany, aorian’ny fanombo-<br>han’io fanafihana io.</p>
</div>
<div class="col" style="left:4402px">
<p><b>Andinin-teny:</b> Ezek. 38:18-23; Dan. 2:<br>34, 35, 44, 45; Apok. 6:2; 16:14, 16; 17:14;<br>19:20</p>
<p><b>Faminaniana:</b> Hamita ‘ny fandreseny ilay<br>mitaingina soavaly fotsy’, rehefa handri-<br>ngana an’i Goga sy ny tafiny. ‘Hatsipy any<br>amin’ny farihy afo ilay bibidia’, ary hopote-<br>hina ilay sarivongana lehibe.</p>
<p><b>Fahatanterahany:</b> Hanavotra ny vahoakan’<br>Andriamanitra i Jesosy, ilay Mpanjakan’ny<br>Fanjakan’Andriamanitra. Handringana an’<br>ireo firenena rehetra manafika ny vahoa-<br>kan’Andriamanitra i Jesosy sy ireo 144 000<br>ary ny tafik’anjely. Ho foana tanteraka ny<br>tontolon’i Satana amin’izay.</p>
</div>
</div>
</body></html>
